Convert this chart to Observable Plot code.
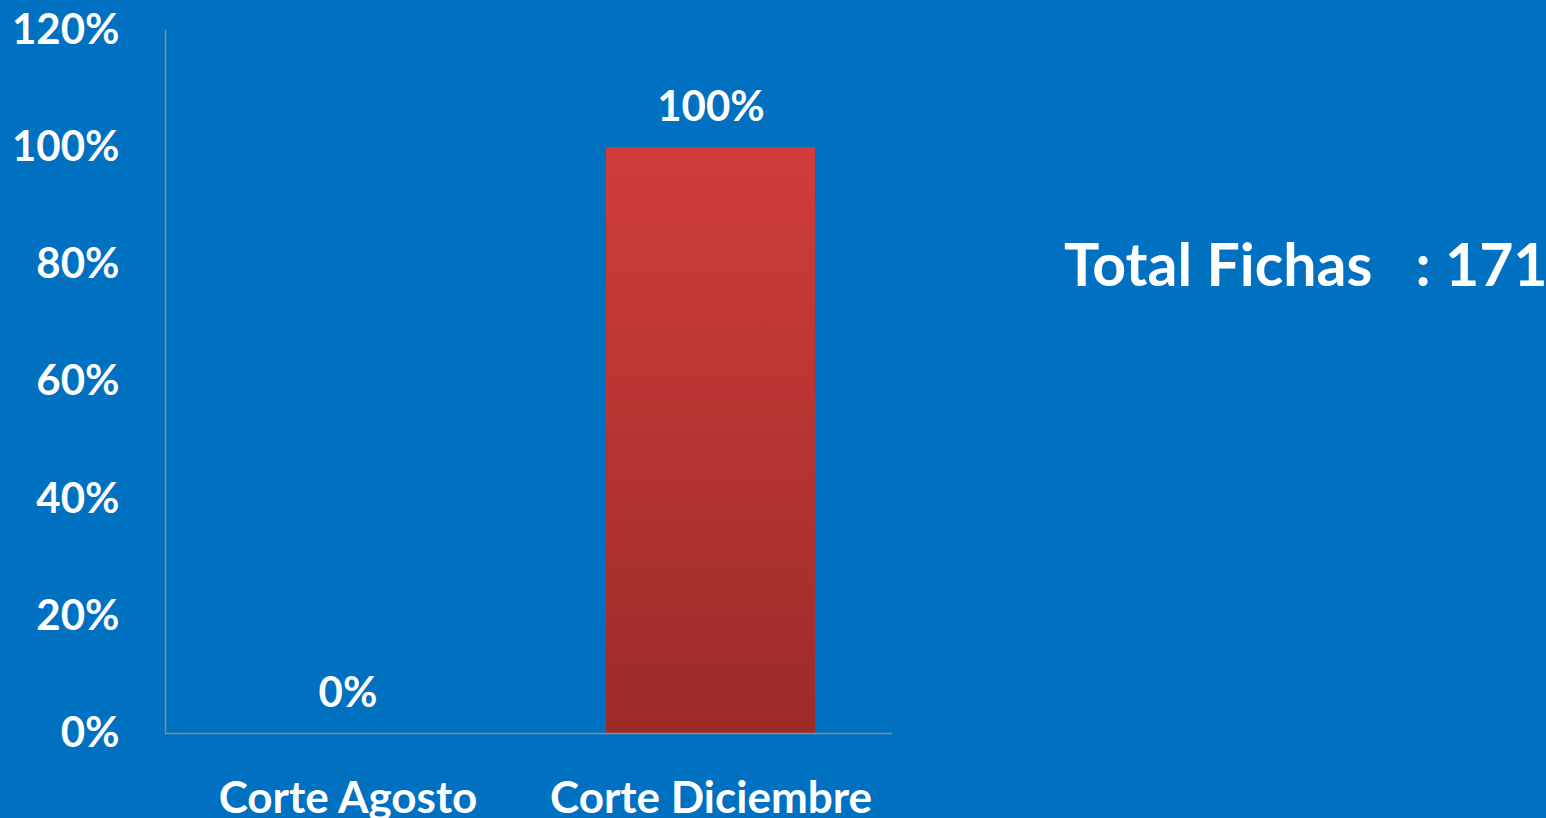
<!DOCTYPE html>
<html>
<head>
<meta charset="utf-8">
<script src="https://cdn.jsdelivr.net/npm/d3@7"></script>
<script src="https://cdn.jsdelivr.net/npm/@observablehq/plot@0.6"></script>
<style>
  html, body { margin: 0; padding: 0; background: #0070C0; overflow: hidden; }
  #wrap { position: relative; width: 1546px; height: 818px; }
  #total { position: absolute; left: 1064px; top: 234px; color: #fff; font-family: Lato, "Open Sans", sans-serif; font-weight: 700; font-size: 59px; white-space: pre; line-height: 1; }
</style>
</head>
<body>
<div id="wrap"><div id="total"></div></div>
<script>
const categories = ["Corte Agosto", "Corte Diciembre"];
const values = [0, 1.0];
const labels = ["0%", "100%"];
const yTicks = [0, 0.2, 0.4, 0.6, 0.8, 1.0, 1.2];
const totalText = "Total Fichas   : 171";

const data = categories.map((c, i) => ({cat: c, v: values[i], label: labels[i]}));

const font = "Lato, 'Open Sans', sans-serif";
const chart = Plot.plot({
  width: 1546,
  height: 818,
  marginLeft: 165,
  marginRight: 654,
  marginTop: 30,
  marginBottom: 85,
  style: {background: "#0070C0", color: "#fff", fontFamily: font, fontWeight: 700, overflow: "visible"},
  x: {domain: categories, paddingInner: 0.425, paddingOuter: 0.2125, label: null},
  y: {domain: [0, 1.2], label: null},
  marks: [
    Plot.barY(data, {x: "cat", y: "v", fill: "url(#barGrad)"}),
    Plot.frame({anchor: "left", stroke: "#8c8c8c", strokeWidth: 1.5}),
    Plot.ruleY([0], {stroke: "#8c8c8c", strokeWidth: 1.5}),
    Plot.axisY({ticks: yTicks, tickFormat: d => Math.round(d * 100) + "%", tickSize: 0, tickPadding: 46, fontSize: 42, fill: "#fff", label: null}),
    Plot.axisX({tickSize: 0, tickPadding: 48, fontSize: 44, fill: "#fff", label: null}),
    Plot.text(data, {x: "cat", y: "v", text: "label", dy: -40, fontSize: 42, fill: "#fff", fontWeight: 700})
  ]
});
chart.insertAdjacentHTML("afterbegin",
  '<defs><linearGradient id="barGrad" x1="0" y1="0" x2="0" y2="1">' +
  '<stop offset="0" stop-color="#D03D3A"/><stop offset="1" stop-color="#9B2B29"/></linearGradient></defs>');
document.getElementById("wrap").prepend(chart);
document.getElementById("total").textContent = totalText;
</script>
</body>
</html>
